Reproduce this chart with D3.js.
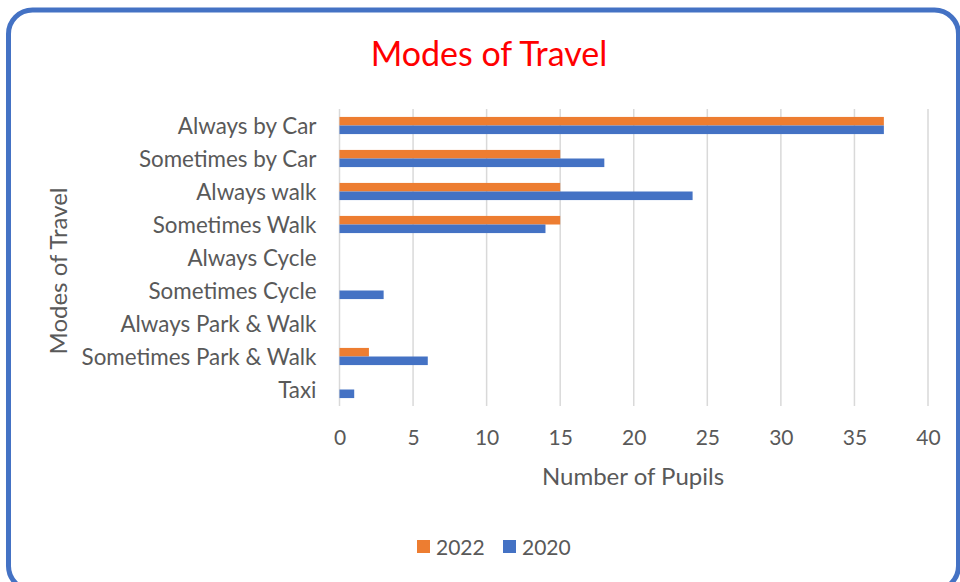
<!DOCTYPE html>
<html>
<head>
<meta charset="utf-8">
<script src="https://cdn.jsdelivr.net/npm/d3@7"></script>
<style>
  body { margin: 0; background: #fff; }
  svg { display: block; font-family: Lato, "Noto Sans", sans-serif; }
</style>
</head>
<body>
<script>
var categories = ["Always by Car", "Sometimes by Car", "Always walk", "Sometimes Walk",
  "Always Cycle", "Sometimes Cycle", "Always Park & Walk", "Sometimes Park & Walk", "Taxi"];
var series = ["2022", "2020"];
var values2022 = [37, 15, 15, 15, 0, 0, 0, 2, 0];
var values2020 = [37, 18, 24, 14, 0, 3, 0, 6, 1];
var xTicks = [0, 5, 10, 15, 20, 25, 30, 35, 40];
var colours = { "2022": "#ED7D31", "2020": "#4472C4" };

var w = 960, h = 582;
var plotLeft = 339.5, plotRight = 928, plotTop = 109, plotBottom = 406;

var svg = d3.select("body").append("svg")
  .attr("width", w)
  .attr("height", h);

// rounded border
svg.append("rect")
  .attr("x", 8.5).attr("y", 10)
  .attr("width", 950).attr("height", 580)
  .attr("rx", 24).attr("ry", 24)
  .attr("fill", "#fff")
  .attr("stroke", "#4472C4")
  .attr("stroke-width", 5);

var x = d3.scaleLinear().domain([0, 40]).range([plotLeft, plotRight]);
var y = d3.scaleBand().domain(categories).range([plotTop, plotBottom]).paddingInner(0.48).paddingOuter(0.24);
var ySub = d3.scaleBand().domain(series).range([0, y.bandwidth()]);

// gridlines
svg.append("g").selectAll("line")
  .data(xTicks)
  .enter().append("line")
  .attr("x1", function(d) { return x(d); })
  .attr("x2", function(d) { return x(d); })
  .attr("y1", plotTop).attr("y2", plotBottom)
  .attr("stroke", "#d9d9d9")
  .attr("stroke-width", 1.5);

// bars
var rows = categories.map(function(c, i) {
  return { cat: c, vals: [{ s: "2022", v: values2022[i] }, { s: "2020", v: values2020[i] }] };
});

svg.append("g").selectAll("g")
  .data(rows)
  .enter().append("g")
  .attr("transform", function(d) { return "translate(0," + y(d.cat) + ")"; })
  .selectAll("rect")
  .data(function(d) { return d.vals.filter(function(e) { return e.v > 0; }); })
  .enter().append("rect")
  .attr("x", x(0))
  .attr("y", function(d) { return ySub(d.s); })
  .attr("width", function(d) { return x(d.v) - x(0); })
  .attr("height", ySub.bandwidth())
  .attr("fill", function(d) { return colours[d.s]; });

// y axis labels
var yAxis = d3.axisLeft(y).tickSize(0).tickPadding(23);
var gy = svg.append("g")
  .attr("transform", "translate(" + plotLeft + ",1)")
  .call(yAxis);
gy.select(".domain").remove();
gy.selectAll("text")
  .attr("fill", "#595959")
  .style("font-size", "22.4px")
  .style("font-family", "Lato, 'Noto Sans', sans-serif");

// x axis labels
var xAxis = d3.axisBottom(x).tickValues(xTicks).tickSize(0).tickPadding(24);
var gx = svg.append("g")
  .attr("transform", "translate(0," + plotBottom + ")")
  .call(xAxis);
gx.select(".domain").remove();
gx.selectAll("text")
  .attr("fill", "#595959")
  .style("font-size", "21px")
  .style("font-family", "Lato, 'Noto Sans', sans-serif");

// title
svg.append("text")
  .attr("x", 489).attr("y", 66)
  .attr("text-anchor", "middle")
  .attr("fill", "#FF0000")
  .style("font-size", "34px")
  .text("Modes of Travel");

// axis titles
svg.append("text")
  .attr("x", 633).attr("y", 485)
  .attr("text-anchor", "middle")
  .attr("fill", "#595959")
  .style("font-size", "24px")
  .text("Number of Pupils");

svg.append("text")
  .attr("transform", "translate(67,271) rotate(-90)")
  .attr("text-anchor", "middle")
  .attr("fill", "#595959")
  .style("font-size", "24px")
  .text("Modes of Travel");

// legend
var legend = svg.append("g").selectAll("g")
  .data(series)
  .enter().append("g")
  .attr("transform", function(d, i) { return "translate(" + (417 + i * 86) + ",540)"; });
legend.append("rect")
  .attr("width", 13).attr("height", 13)
  .attr("fill", function(d) { return colours[d]; });
legend.append("text")
  .attr("x", 19).attr("y", 15)
  .attr("fill", "#595959")
  .style("font-size", "21px")
  .text(function(d) { return d; });
</script>
</body>
</html>
